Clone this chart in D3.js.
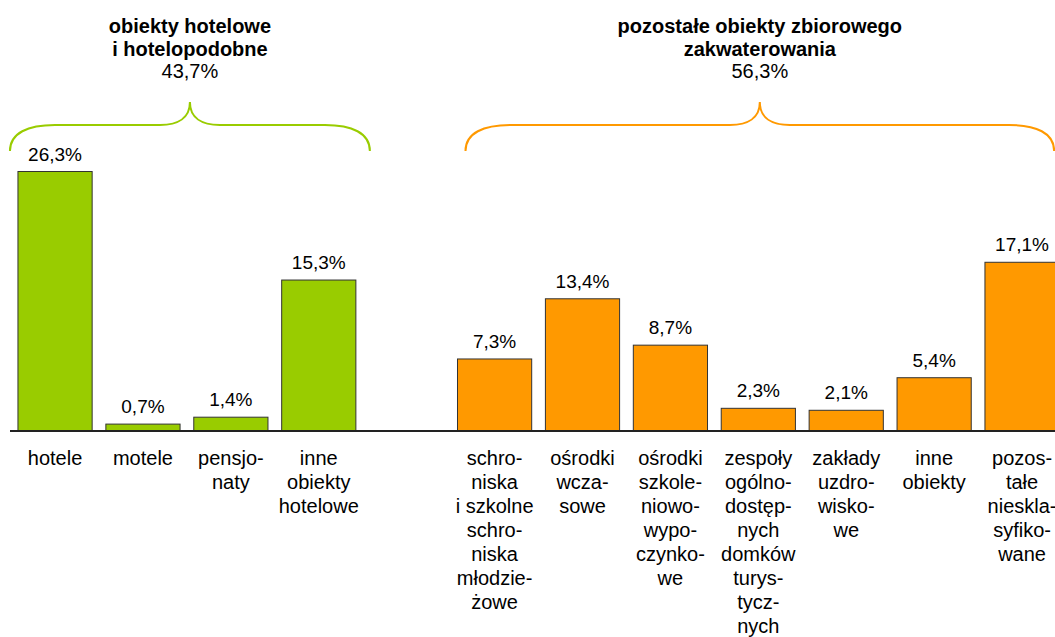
<!DOCTYPE html>
<html>
<head>
<meta charset="utf-8">
<script src="https://cdn.jsdelivr.net/npm/d3@7"></script>
<style>
  html, body { margin: 0; padding: 0; background: #fff; }
  svg { display: block; }
  text { font-family: "Liberation Sans", Arial, sans-serif; fill: #000; }
</style>
</head>
<body>
<svg id="chart" width="1055" height="637"></svg>
<script>
// ── Data ─────────────────────────────────────────────────────
const categories = [
  'hotele', 'motele', 'pensjonaty', 'inne obiekty hotelowe', '',
  'schroniska', 'ośrodki wczasowe', 'ośrodki szkoleniowo-wypoczynkowe',
  'zespoły domków turystycznych', 'zakłady uzdrowiskowe', 'inne obiekty', 'pozostałe'
];
const values = [26.3, 0.7, 1.4, 15.3, null, 7.3, 13.4, 8.7, 2.3, 2.1, 5.4, 17.1];
const valueLabels = ['26,3%', '0,7%', '1,4%', '15,3%', '', '7,3%', '13,4%', '8,7%', '2,3%', '2,1%', '5,4%', '17,1%'];
const categoryLines = [
  ['hotele'],
  ['motele'],
  ['pensjo-', 'naty'],
  ['inne', 'obiekty', 'hotelowe'],
  [],
  ['schro-', 'niska', 'i szkolne', 'schro-', 'niska', 'młodzie-', 'żowe'],
  ['ośrodki', 'wcza-', 'sowe'],
  ['ośrodki', 'szkole-', 'niowo-', 'wypo-', 'czynko-', 'we'],
  ['zespoły', 'ogólno-', 'dostęp-', 'nych', 'domków', 'turys-', 'tycz-', 'nych'],
  ['zakłady', 'uzdro-', 'wisko-', 'we'],
  ['inne', 'obiekty'],
  ['pozos-', 'tałe', 'nieskla-', 'syfiko-', 'wane']
];
const groupIndex = [0, 0, 0, 0, null, 1, 1, 1, 1, 1, 1, 1];

const groupTitles = [
  ['obiekty hotelowe', 'i hotelopodobne'],
  ['pozostałe obiekty zbiorowego', 'zakwaterowania']
];
const groupTotals = ['43,7%', '56,3%'];
const groupFirst = [0, 5];
const groupLast = [3, 11];
const groupColors = ['#99cc00', '#ff9900'];

// ── Scales ───────────────────────────────────────────────────
const svg = d3.select('#chart');
const baseY = 431;

const x = d3.scaleBand()
  .domain(d3.range(categories.length))
  .range([11.1, 1066])
  .paddingInner(0.156)
  .paddingOuter(0.078);

const y = d3.scaleLinear()
  .domain([0, 26.3])
  .range([baseY, 171.5]);

const idx = d3.range(categories.length).filter(i => values[i] != null);

// ── Bars ─────────────────────────────────────────────────────
svg.append('g').selectAll('rect')
  .data(idx)
  .join('rect')
  .attr('x', i => x(i))
  .attr('y', i => y(values[i]))
  .attr('width', x.bandwidth())
  .attr('height', i => baseY - y(values[i]))
  .attr('fill', i => groupColors[groupIndex[i]])
  .attr('stroke', '#333')
  .attr('stroke-width', 1);

// Baseline
svg.append('line')
  .attr('x1', 10).attr('x2', 1055)
  .attr('y1', baseY).attr('y2', baseY)
  .attr('stroke', '#222')
  .attr('stroke-width', 2);

// Value labels
svg.append('g').selectAll('text')
  .data(idx)
  .join('text')
  .attr('x', i => x(i) + x.bandwidth() / 2)
  .attr('y', i => y(values[i]) - 11)
  .attr('text-anchor', 'middle')
  .attr('font-size', '19px')
  .text(i => valueLabels[i]);

// Category labels (pre-split lines)
const catG = svg.append('g').selectAll('text')
  .data(idx)
  .join('text')
  .attr('text-anchor', 'middle')
  .attr('font-size', '20px');

catG.selectAll('tspan')
  .data(i => categoryLines[i].map(line => ({ i, line })))
  .join('tspan')
  .attr('x', d => x(d.i) + x.bandwidth() / 2)
  .attr('y', (d, k) => 465 + k * 24)
  .text(d => d.line);

// ── Group braces and titles ──────────────────────────────────
function bracePath(x0, x1) {
  const c = (x0 + x1) / 2;
  const yEnd = 151, yMid = 125, yTop = 102;
  const p = d3.path();
  p.moveTo(x0, yEnd);
  p.bezierCurveTo(x0, 133, x0 + 18, yMid, x0 + 45, yMid);
  p.lineTo(c - 30, yMid);
  p.bezierCurveTo(c - 12, yMid, c, 118, c, yTop);
  p.bezierCurveTo(c, 118, c + 12, yMid, c + 30, yMid);
  p.lineTo(x1 - 45, yMid);
  p.bezierCurveTo(x1 - 18, yMid, x1, 133, x1, yEnd);
  return p.toString();
}

const braceStart = [x(groupFirst[0]) - 8, x(groupFirst[1]) + 8];
const braceEnd = [x(groupLast[0]) + x.bandwidth() + 14, x(groupLast[1]) + x.bandwidth() - 5];

groupTitles.forEach((lines, g) => {
  const x0 = braceStart[g], x1 = braceEnd[g];
  const c = (x0 + x1) / 2;

  svg.append('path')
    .attr('d', bracePath(x0, x1))
    .attr('fill', 'none')
    .attr('stroke', groupColors[g])
    .attr('stroke-width', 2);

  const t = svg.append('text')
    .attr('text-anchor', 'middle')
    .attr('font-size', '20px');

  lines.forEach((line, k) => {
    t.append('tspan')
      .attr('x', c)
      .attr('y', 33 + k * 22.5)
      .attr('font-weight', 'bold')
      .text(line);
  });
  t.append('tspan')
    .attr('x', c)
    .attr('y', 33 + lines.length * 22.5)
    .text(groupTotals[g]);
});
</script>
</body>
</html>
